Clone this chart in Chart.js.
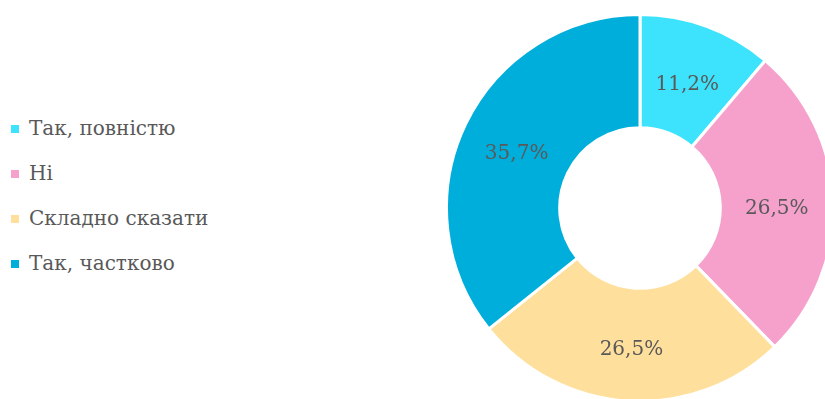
<!DOCTYPE html>
<html>
<head>
<meta charset="utf-8">
<script src="https://cdn.jsdelivr.net/npm/chart.js@4"></script>
<style>
    html, body { margin: 0; padding: 0; background: #fff; overflow: hidden; width: 825px; height: 399px; }
    #wrap { position: absolute; left: 445px; top: 13px; width: 390px; height: 390px; }
    #legend { position: absolute; left: 11px; top: 113px; font-family: "DejaVu Serif", serif; font-size: 20px; color: #595959; }
    .item { height: 45px; line-height: 31px; white-space: nowrap; }
    .box { display: inline-block; width: 8px; height: 8px; margin-right: 10px; vertical-align: 2px; }
</style>
</head>
<body>
<div id="legend"></div>
<div id="wrap"><canvas id="pie" width="390" height="390"></canvas></div>
<script>
const categories = ['Так, повністю', 'Ні', 'Складно сказати', 'Так, частково'];
const shares = [11.2, 26.5, 26.5, 35.7];
const sliceColors = ['#3de3fc', '#f6a1cc', '#fedf9b', '#00aedb'];

// legend on the left
const legend = document.getElementById('legend');
for (let i = 0; i < categories.length; i++) {
    const row = document.createElement('div');
    row.className = 'item';
    const box = document.createElement('span');
    box.className = 'box';
    box.style.background = sliceColors[i];
    row.appendChild(box);
    row.appendChild(document.createTextNode(categories[i]));
    legend.appendChild(row);
}

// percent labels in the middle of each slice
const sliceLabels = {
    id: 'sliceLabels',
    afterDatasetsDraw(chart) {
        const ctx = chart.ctx;
        const meta = chart.getDatasetMeta(0);
        ctx.save();
        ctx.font = '20px "DejaVu Serif", serif';
        ctx.fillStyle = '#595959';
        ctx.textAlign = 'center';
        ctx.textBaseline = 'middle';
        meta.data.forEach((arc, i) => {
            const p = arc.tooltipPosition();
            ctx.fillText(shares[i].toFixed(1).replace('.', ',') + '%', p.x, p.y + 5);
        });
        ctx.restore();
    }
};

new Chart(document.getElementById('pie'), {
    type: 'doughnut',
    data: {
        labels: categories,
        datasets: [{
            data: shares,
            backgroundColor: sliceColors,
            borderColor: '#ffffff',
            borderWidth: 3,
            hoverBorderWidth: 3
        }]
    },
    options: {
        responsive: false,
        animation: false,
        cutout: '41.5%',
        layout: { padding: 0 },
        plugins: {
            legend: { display: false },
            tooltip: { enabled: false }
        }
    },
    plugins: [sliceLabels]
});
</script>
</body>
</html>
